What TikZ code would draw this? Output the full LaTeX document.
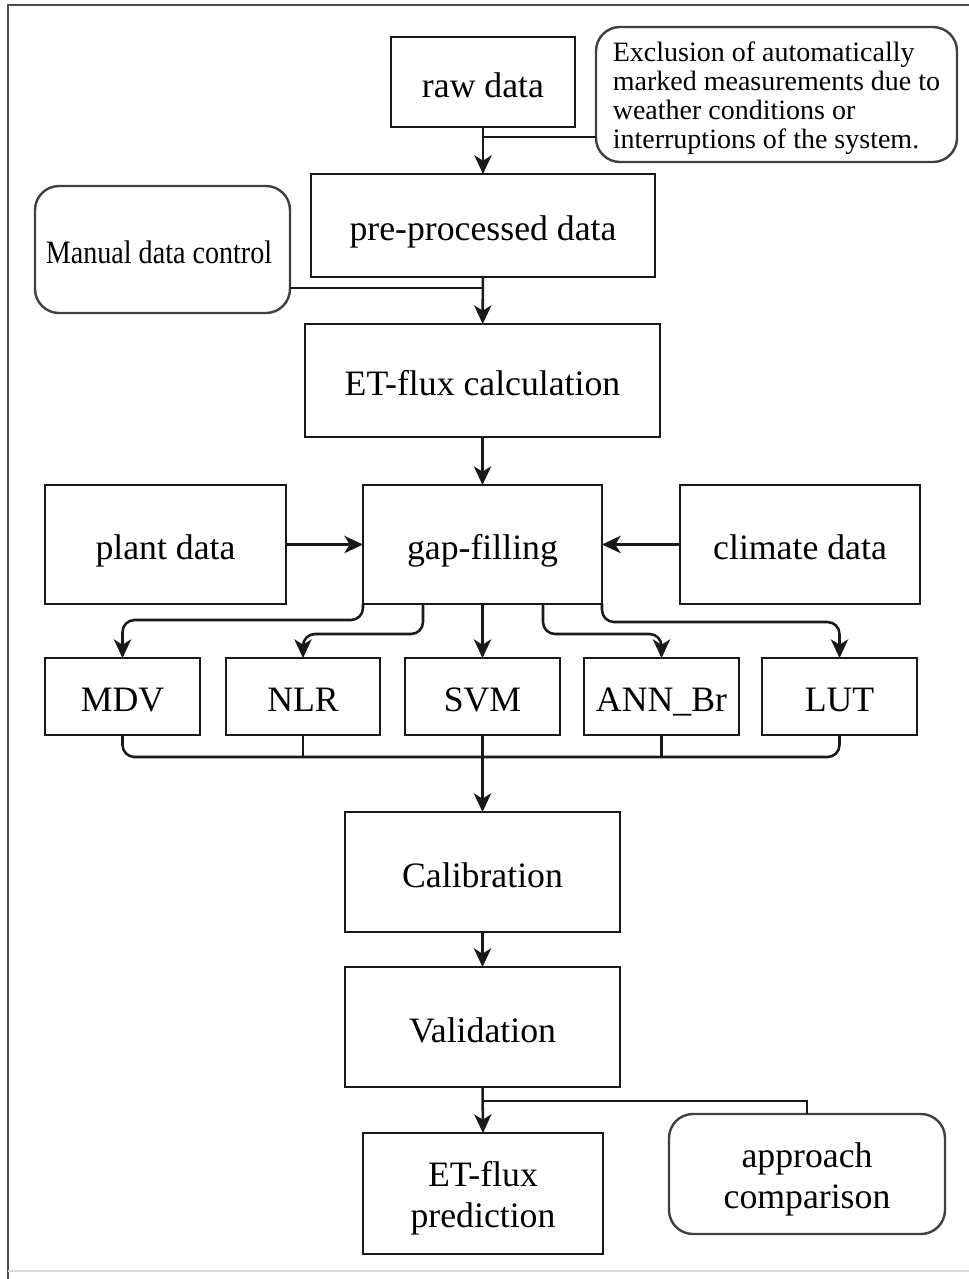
\documentclass[tikz,border=0pt]{standalone}
\usepackage{fontspec}
\setmainfont{Liberation Serif}
\newfontfamily\condfont{Liberation Serif}[FakeStretch=0.86]
\usetikzlibrary{arrows.meta}
\newcommand{\lowtxt}[3]{\raisebox{-#1}[\height][\depth]{\begin{tabular}{@{}#2@{}}#3\end{tabular}}}
\tikzset{
  ln/.style={line width=1.9pt, draw=black!90},
  arr/.style={ln, -{Stealth[length=14pt, width=13pt, inset=4pt]}},
  sz/.style 2 args={minimum width=#1*0.75pt, minimum height=#2*0.75pt},
  box/.style={draw=black!90, line width=1.8pt, rectangle, inner sep=0pt, outer sep=0pt,
    align=center, font=\fontsize{26.8}{31}\selectfont},
  one/.style={text height=22.5pt, text depth=0pt},
  rbox/.style={box, draw=black!75, rounded corners=18pt},
}
\begin{document}
\begin{tikzpicture}[x=0.75pt, y=-0.75pt]
\useasboundingbox (0,0) rectangle (969,1279);
\fill[white] (0,0) rectangle (969,1279);
% outer frame
\draw[line width=2.2pt, draw=black!70] (8,1279) -- (8,5) -- (969,5);
\draw[line width=1pt, draw=black!15] (8,1271) -- (969,1271);

% nodes
\node[box, one, sz={184}{90}] (raw) at (483,82) {raw data};
\node[rbox, sz={361}{135}, font=\fontsize{21}{21.7}\selectfont] (note) at (776.5,94.5)
  {\lowtxt{3.8pt}{l}{Exclusion of automatically\\marked measurements due to\\weather conditions or\\interruptions of the system.}};
\node[box, one, sz={344}{103}] (pre) at (483,225.5) {pre-processed data};
\node[rbox, sz={255}{127}] (man) at (162.5,249.5) {};
\node[font=\condfont\fontsize{24.5}{28}\selectfont] (mantxt) at (159,252) {Manual data control};
\node[box, one, sz={355}{113}] (etc) at (482.5,380.5) {ET-flux calculation};
\node[box, one, sz={239}{119}] (gap) at (482.5,544.5) {gap-filling};
\node[box, one, sz={241}{119}] (plant) at (165.5,544.5) {plant data};
\node[box, one, sz={240}{119}] (clim) at (800,544.5) {climate data};
\node[box, one, sz={155}{77}] (mdv) at (122.5,696.5) {MDV};
\node[box, one, sz={154}{77}] (nlr) at (303,696.5) {NLR};
\node[box, one, sz={155}{77}] (svm) at (482.5,696.5) {SVM};
\node[box, one, sz={155}{77}] (ann) at (661.5,696.5) {ANN\_Br};
\node[box, one, sz={155}{77}] (lut) at (839.5,696.5) {LUT};
\node[box, one, sz={275}{120}] (cal) at (482.5,872) {Calibration};
\node[box, one, sz={275}{120}] (val) at (482.5,1027) {Validation};
\node[box, sz={240}{121}] (pred) at (483,1193.5) {\lowtxt{4pt}{c}{ET-flux\\prediction}};
\node[rbox, sz={276}{120}] (appr) at (807,1174) {\lowtxt{4.5pt}{c}{approach\\comparison}};

% junction coordinates
\coordinate (j1) at (483,137);
\coordinate (j2) at (483,288);
\coordinate (jm) at (482.5,757);
\coordinate (jb) at (483,1101);

% connectors
\draw[arr] (raw) -- (pre);
\draw[ln] (note.west |- j1) -- (j1);
\draw[arr] (pre) -- (etc);
\draw[ln] (man.east |- j2) -- (j2);
\draw[arr] (etc) -- (gap);
\draw[arr] (plant) -- (gap);
\draw[arr] (clim) -- (gap);

\draw[arr, rounded corners=9pt] (gap.south west) -- ++(0,16) -| (mdv.north);
\draw[arr, rounded corners=9pt] (gap.south) ++(-59.5,0) -- ++(0,30) -| (nlr.north);
\draw[arr] (gap.south) -- (svm.north);
\draw[arr, rounded corners=9pt] (gap.south) ++(60.5,0) -- ++(0,30) -| (ann.north);
\draw[arr, rounded corners=9pt] (gap.south east) -- ++(0,18) -| (lut.north);

\draw[ln, rounded corners=9pt] (mdv.south) -- (mdv.south |- jm) -- (lut.south |- jm) -- (lut.south);
\draw[ln] (nlr.south) -- (nlr.south |- jm);
\draw[ln] (ann.south) -- (ann.south |- jm);
\draw[arr] (svm.south) -- (cal.north);

\draw[arr] (cal) -- (val);
\draw[arr] (val.south) -- (pred.north);
\draw[ln] (jb) -| (appr.north);
\end{tikzpicture}
\end{document}
